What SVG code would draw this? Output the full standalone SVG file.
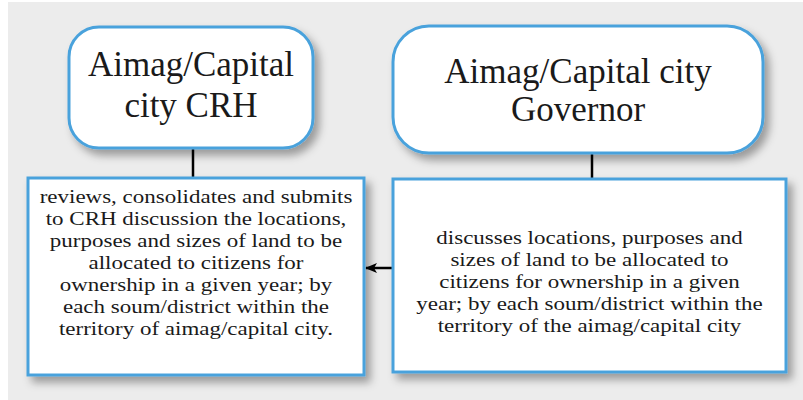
<svg xmlns="http://www.w3.org/2000/svg" width="803" height="400" viewBox="0 0 803 400">
<defs>
<filter id="sh" x="-10%" y="-10%" width="130%" height="140%">
<feDropShadow dx="5" dy="6" stdDeviation="4" flood-color="#000" flood-opacity="0.35"/>
</filter>
<marker id="ah" markerWidth="12" markerHeight="10" refX="11" refY="5" orient="auto" markerUnits="userSpaceOnUse">
<path d="M0,0 L12,5 L0,10 L3,5 Z" fill="#000"/>
</marker>
</defs>
<style>
.box{fill:#fff;stroke:#4aa2dc;stroke-width:3;filter:url(#sh)}
.t{font-family:"Liberation Serif","Times New Roman",serif;fill:#1a1a1a;text-anchor:middle}
.big{font-size:35px}
.small{font-size:19px}
.con{stroke:#000;stroke-width:2.5;fill:none}
</style>
<rect x="0" y="0" width="803" height="400" fill="#fff"/>
<rect x="8" y="2" width="795" height="398" fill="#ececec"/>
<g id="connectors">
<line class="con" x1="193" y1="149" x2="193" y2="178"/>
<line class="con" x1="592" y1="154" x2="592" y2="179"/>
<line class="con" x1="393" y1="268" x2="366" y2="268" marker-end="url(#ah)"/>
</g>
<g id="crh">
<rect class="box" x="69" y="27" width="244" height="121" rx="30" ry="30"/>
<text class="t big" x="191" y="76">Aimag/Capital</text>
<text class="t big" x="191" y="117">city CRH</text>
</g>
<g id="governor">
<rect class="box" x="393" y="26" width="370" height="127" rx="36" ry="36"/>
<text class="t big" x="578" y="83">Aimag/Capital city</text>
<text class="t big" x="578" y="121">Governor</text>
</g>
<g id="reviews">
<rect class="box" x="28" y="178" width="336" height="197"/>
<g transform="translate(196,0) scale(1.21,1)">
<text class="t small" x="0" y="203">reviews, consolidates and submits</text>
<text class="t small" x="0" y="225">to  CRH discussion the locations,</text>
<text class="t small" x="0" y="247">purposes and sizes of land to be</text>
<text class="t small" x="0" y="269">allocated to citizens for</text>
<text class="t small" x="0" y="291">ownership in a given year; by</text>
<text class="t small" x="0" y="313">each soum/district within the</text>
<text class="t small" x="0" y="335">territory of aimag/capital city.</text>
</g>
</g>
<g id="discusses">
<rect class="box" x="393" y="179" width="393" height="193"/>
<g transform="translate(589.5,0) scale(1.21,1)">
<text class="t small" x="0" y="244">discusses locations, purposes and</text>
<text class="t small" x="0" y="266">sizes of land to be allocated to</text>
<text class="t small" x="0" y="288">citizens for ownership in a given</text>
<text class="t small" x="0" y="310">year; by each soum/district within the</text>
<text class="t small" x="0" y="332">territory of the aimag/capital city</text>
</g>
</g>
</svg>
